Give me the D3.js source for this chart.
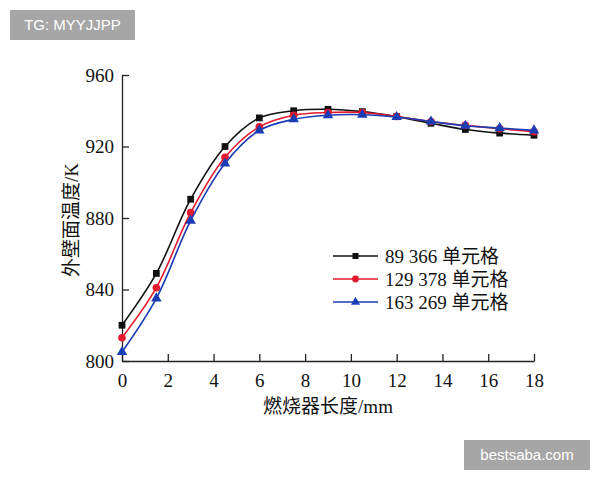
<!DOCTYPE html>
<html><head><meta charset="utf-8">
<script src="https://cdn.jsdelivr.net/npm/d3@7"></script>
<style>body{margin:0;background:#fff}</style>
</head><body>
<svg id="c" width="600" height="480"></svg>
<script>
const xs = [0,1.5,3,4.5,6,7.5,9,10.5,12,13.5,15,16.5,18];
const s1 = [820,849,890.5,920,936,940,940.8,939.5,936.7,933,929.5,927.5,926.3];
const s2 = [813,841,883,914,931,937.5,939,939,936.8,934,931.8,930,928.3];
const s3 = [805,835,878.5,910.5,929,935.2,937.5,937.8,936.5,934,931.6,930.3,929];
const nums = ["89 366","129 378","163 269"];
const unit = "单元格";
const colors = ["#111111","#e61a2e","#1a3cb4"];
const shapes = [d3.symbolSquare, d3.symbolCircle, d3.symbolTriangle];
const xTicks = [0,2,4,6,8,10,12,14,16,18];
const yTicks = [800,840,880,920,960];

const svg = d3.select("#c");
const x = d3.scaleLinear().domain([0,18]).range([122,534]);
const y = d3.scaleLinear().domain([800,960]).range([361,75]);
const serif = "'Liberation Serif','Times New Roman',serif";
const cjk = "'Noto Sans CJK SC',sans-serif";

// axes
const gx = svg.append("g").attr("transform","translate(0,361)")
  .call(d3.axisBottom(x).tickValues(xTicks).tickSizeInner(-7).tickSizeOuter(0).tickPadding(14));
const gy = svg.append("g").attr("transform","translate(122,0)")
  .call(d3.axisLeft(y).tickValues(yTicks).tickSizeInner(-7).tickSizeOuter(0).tickPadding(14));
[gx,gy].forEach(g=>{
  g.select(".domain").attr("stroke","#222").attr("stroke-width",1.3);
  g.selectAll(".tick line").attr("stroke","#222").attr("stroke-width",1.3);
  g.selectAll(".tick text").attr("font-family",serif).attr("font-size",19).attr("fill","#111");
});
gx.selectAll(".tick text").attr("dy","0.75em").attr("y",12);
gy.selectAll(".tick text").attr("x",-8);

// axis titles (CJK part + Latin part in separate spans)
const xt = svg.append("text").attr("x",328).attr("y",413).attr("text-anchor","middle")
  .attr("font-size",19).attr("fill","#111");
xt.append("tspan").attr("font-family",cjk).text("燃烧器长度");
xt.append("tspan").attr("font-family",serif).text("/mm");
const yt = svg.append("text").attr("transform","translate(78,220) rotate(-90)").attr("text-anchor","middle")
  .attr("font-size",19).attr("fill","#111");
yt.append("tspan").attr("font-family",cjk).text("外壁面温度");
yt.append("tspan").attr("font-family",serif).text("/K");

// series
const series = [s1,s2,s3];
const line = d3.line().x(d=>x(d[0])).y(d=>y(d[1])).curve(d3.curveCatmullRom.alpha(0.5));
series.forEach((s,i)=>{
  const pts = xs.map((v,j)=>[v,s[j]]);
  svg.append("path").datum(pts).attr("d",line).attr("fill","none")
    .attr("stroke",colors[i]).attr("stroke-width",1.6);
  svg.append("g").selectAll("path").data(pts).join("path")
    .attr("transform",d=>`translate(${x(d[0])},${y(d[1])})`)
    .attr("d",d3.symbol().type(shapes[i]).size(i===2?48:46))
    .attr("fill",colors[i]);
});

// legend
const ly = [256,279,302];
nums.forEach((n,i)=>{
  svg.append("line").attr("x1",333).attr("x2",378).attr("y1",ly[i]).attr("y2",ly[i])
    .attr("stroke",colors[i]).attr("stroke-width",1.6);
  svg.append("path").attr("transform",`translate(355.5,${ly[i]})`)
    .attr("d",d3.symbol().type(shapes[i]).size(36)).attr("fill",colors[i]);
  const t = svg.append("text").attr("x",385).attr("y",ly[i]+7)
    .attr("font-size",19).attr("fill","#111");
  t.append("tspan").attr("font-family",serif).text(n+"\u00a0");
  t.append("tspan").attr("font-family",cjk).text(unit);
});

// watermark boxes
function badge(x0,y0,w,h,t){
  svg.append("rect").attr("x",x0).attr("y",y0).attr("width",w).attr("height",h).attr("fill","#a6a6a6");
  svg.append("text").attr("x",x0+w/2).attr("y",y0+h/2+5).attr("text-anchor","middle")
    .attr("font-family","'Liberation Sans',Arial,sans-serif").attr("font-size",15).attr("fill","#fff").text(t);
}
badge(10,10,125,30,"TG: MYYJJPP");
badge(464,440,126,30,"bestsaba.com");
</script>
</body></html>
